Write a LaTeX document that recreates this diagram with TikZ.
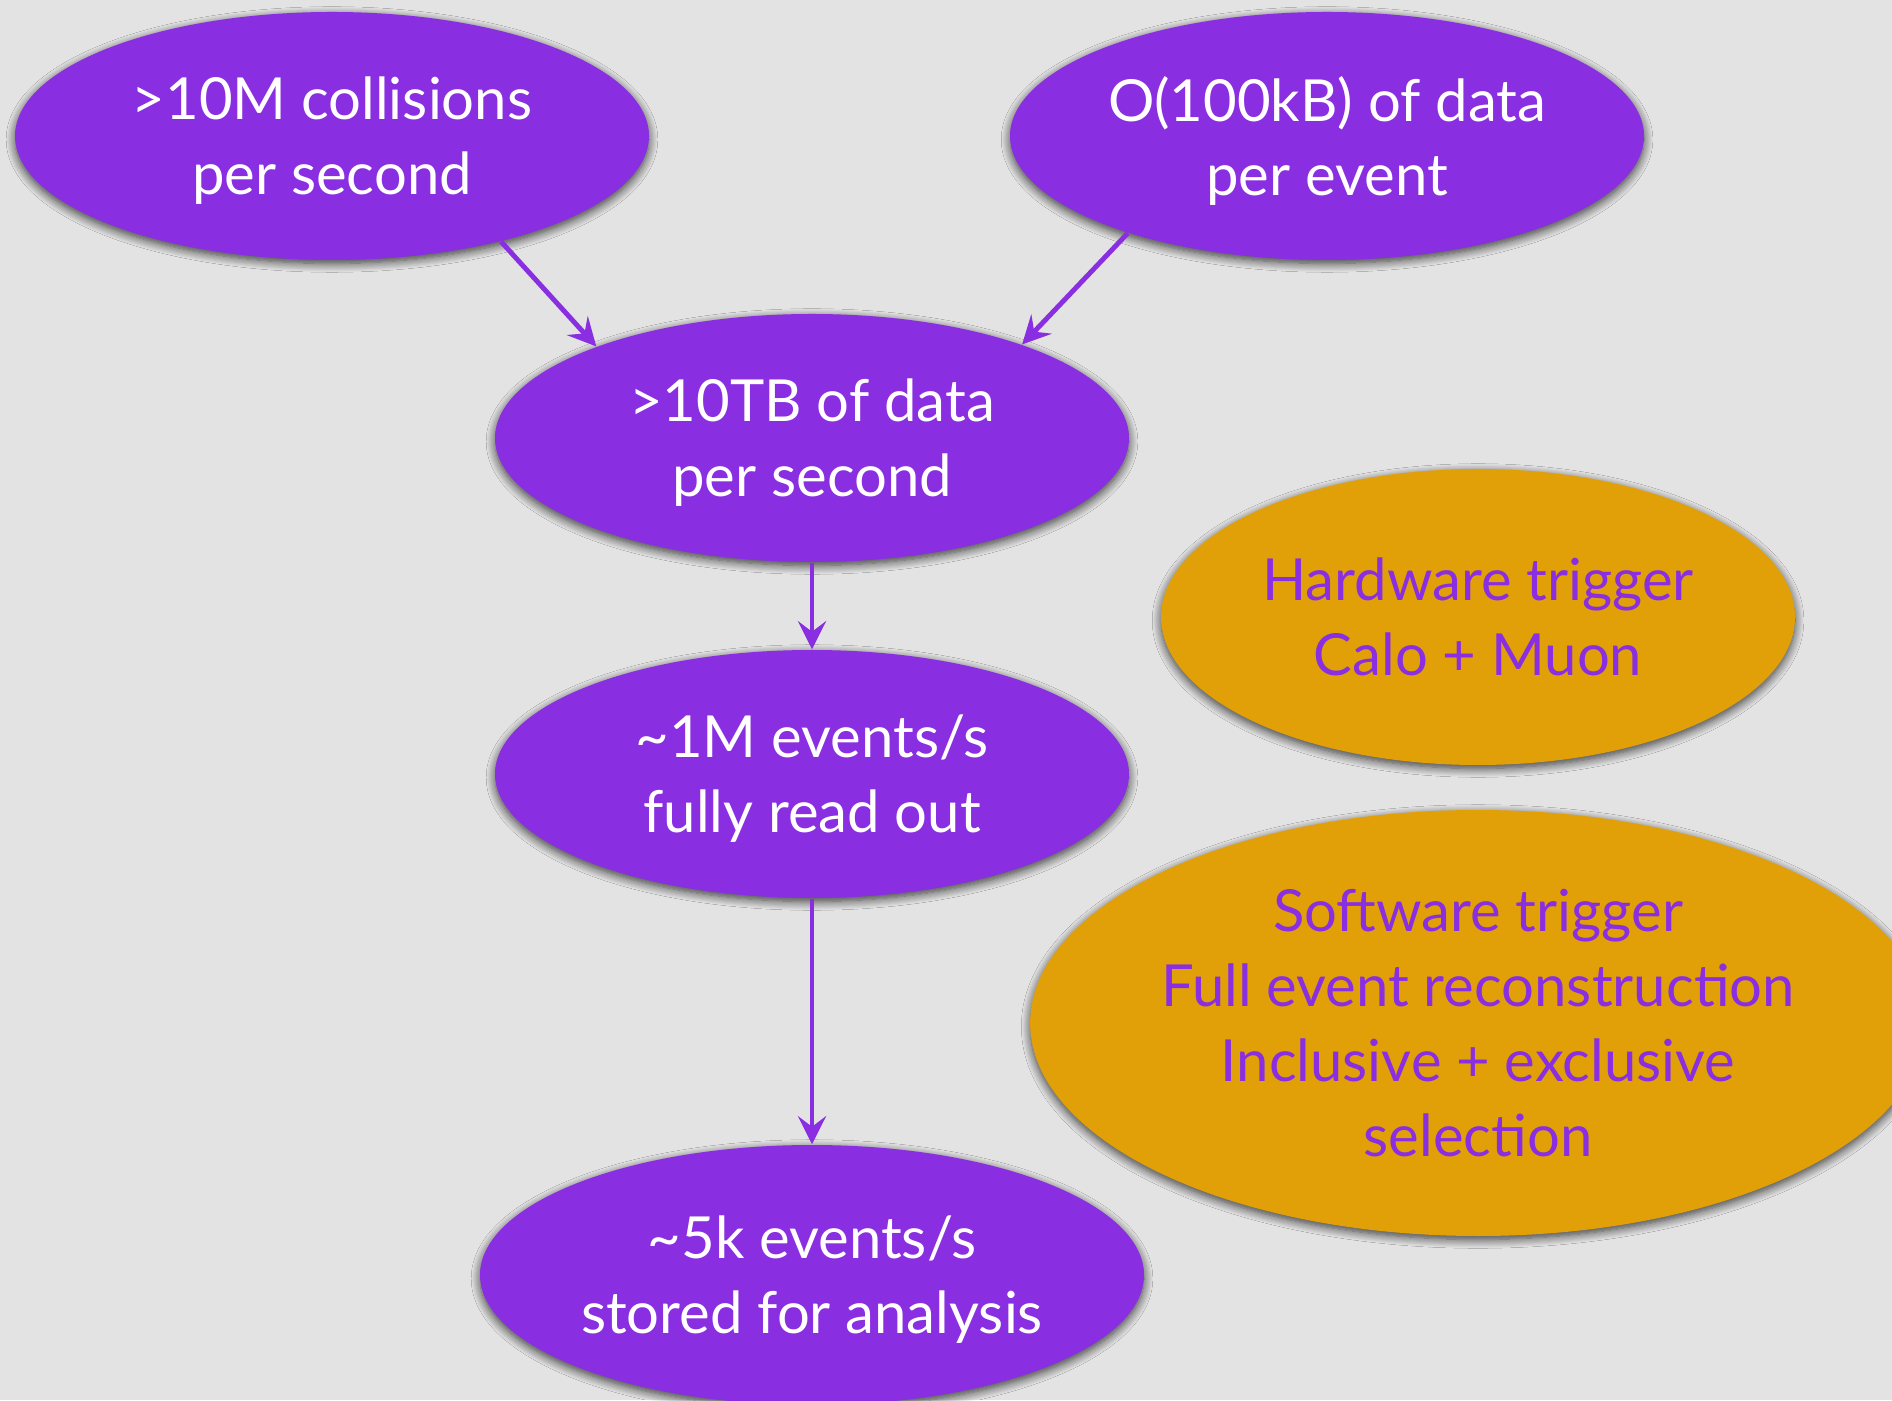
\documentclass[tikz,border=0pt]{standalone}
\usepackage{fontspec}
\setmainfont{Lato}
\usepackage{tikz}
\usetikzlibrary{arrows.meta,shapes.geometric,shadows.blur}
\definecolor{bgray}{RGB}{227,227,227}
\definecolor{dviolet}{RGB}{138,46,226}
\definecolor{dorange}{RGB}{226,160,8}
\tikzset{
  soft/.style={blur shadow={shadow xshift=0pt,shadow yshift=-1pt,shadow blur radius=2.5pt,shadow blur steps=10,shadow opacity=75}},
  rate/.style={ellipse,fill=dviolet,soft,text=white,align=center,inner sep=0pt,text depth=0pt,
    minimum width=6.34cm,minimum height=2.48cm,font=\fontsize{16.5}{21.3}\selectfont},
  trig/.style={ellipse,fill=dorange,soft,text=dviolet,align=center,inner sep=0pt,
    font=\fontsize{16.5}{21.3}\selectfont},
  arrow/.style={-{Stealth[length=8pt,width=8pt,inset=3pt]},line width=1.4pt,dviolet}
}

\begin{document}
\begin{tikzpicture}
  \fill[bgray] (0,0) rectangle (18.92,14);
  \useasboundingbox (0,0) rectangle (18.92,14);
  \begin{scope}
    \clip (0,0) rectangle (18.92,14);
    % data flow
    \node[rate] (coll) at (3.32,12.64) {>10M collisions\\per second};
    \node[rate] (size) at (13.27,12.64) {O(100kB) of data\\per event};
    \node[rate] (tb) at (8.12,9.62) {>10TB of data\\per second};
    \node[rate] (readout) at (8.12,6.26) {\textasciitilde1M events/s\\fully read out};
    \node[rate,minimum width=6.64cm,minimum height=2.6cm] (stored) at (8.12,1.25) {\textasciitilde5k events/s\\stored for analysis};
    % triggers
    \node[trig,minimum width=6.34cm,minimum height=2.96cm] (hw) at (14.78,7.83) {Hardware trigger\\Calo + Muon};
    \node[trig,minimum width=8.4cm,minimum height=4.26cm] (sw) at (14.78,3.77) {Software trigger\\Full event reconstruction\\Inclusive + exclusive\\selection};
  \end{scope}
  \draw[arrow] (coll.-32) -- (tb.157);
  \draw[arrow] (size.-154) -- (tb.24);
  \draw[arrow] (tb) -- (readout);
  \draw[arrow] (readout) -- (stored);
\end{tikzpicture}
\end{document}
